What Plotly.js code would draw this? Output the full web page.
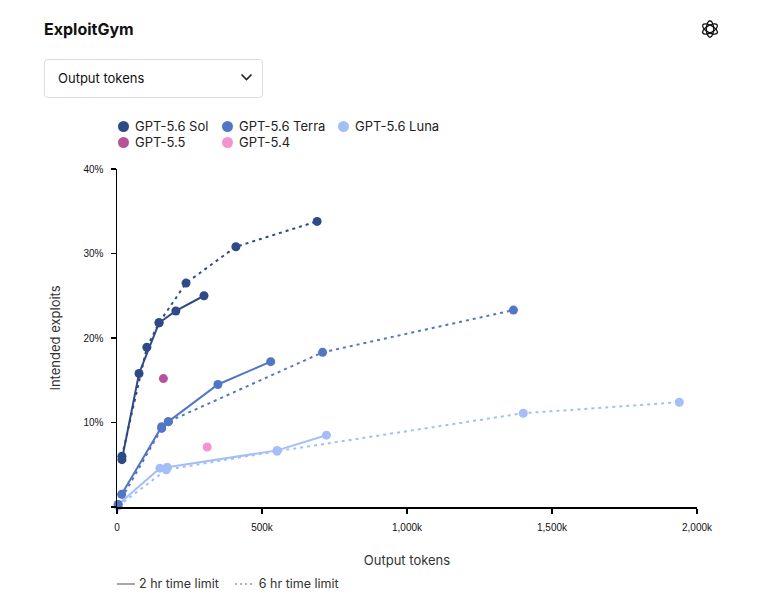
<!DOCTYPE html>
<html><head><meta charset="utf-8">
<script src="https://cdn.plot.ly/plotly-3.0.1.min.js"></script>
<style>
body{margin:0;background:#fff;font-family:Inter,"Liberation Sans",sans-serif;}
#wrap{position:relative;width:758px;height:613px;overflow:hidden;}
#chart{position:absolute;left:0;top:0;width:758px;height:613px;}
.ov{position:absolute;color:#111;white-space:nowrap;}
#title{left:44px;top:19px;font-size:16px;font-weight:700;}
#dd{left:44px;top:59px;width:219px;height:39px;border:1px solid #ddd;border-radius:4px;box-sizing:border-box;}
#ddtxt{left:58px;top:70px;font-size:13px;}
.leg{position:absolute;font-size:13px;color:#222;display:flex;align-items:center;}
.dot{width:11px;height:11px;border-radius:50%;margin-right:6px;}
#bleg{left:117px;top:576px;font-size:12.5px;color:#333;display:flex;align-items:center;}
</style></head>
<body><div id="wrap">
<div id="chart"></div>
<div class="ov" id="title">ExploitGym</div>
<div class="ov" id="dd"></div>
<div class="ov" id="ddtxt">Output tokens</div>
<svg class="ov" style="left:240px;top:72px" width="13" height="10"><path d="M1.5 2.5 L6.5 7.5 L11.5 2.5" fill="none" stroke="#222" stroke-width="1.6"/></svg>
<svg class="ov" style="left:699px;top:18px" width="22" height="22" viewBox="0 0 24 24"><g fill="none" stroke="#111" stroke-width="1.4">
<ellipse cx="12" cy="12" rx="4" ry="9"/><ellipse cx="12" cy="12" rx="4" ry="9" transform="rotate(60 12 12)"/><ellipse cx="12" cy="12" rx="4" ry="9" transform="rotate(120 12 12)"/></g></svg>
<div id="legends"></div>
<div class="ov" id="bleg"><svg width="18" height="4"><line x1="0" y1="2" x2="18" y2="2" stroke="#888" stroke-width="1.5"/></svg><span style="margin-left:4px">2 hr time limit</span><svg width="20" height="4" style="margin-left:16px"><line x1="0" y1="2" x2="20" y2="2" stroke="#999" stroke-width="1.5" stroke-dasharray="2,3"/></svg><span style="margin-left:4px">6 hr time limit</span></div>
</div>
<script>
// Data (output tokens in thousands, intended exploits in %)
const solX2 = [17, 76, 145, 203, 300];
const solY2 = [5.6, 15.8, 21.8, 23.2, 25.0];
const solX6 = [17, 103, 145, 238, 410, 690];
const solY6 = [6.0, 18.9, 21.8, 26.5, 30.8, 33.8];
const terraX2 = [16, 154, 177, 348, 530];
const terraY2 = [1.5, 9.5, 10.1, 14.5, 17.2];
const terraX6 = [4, 154, 177, 709, 1367];
const terraY6 = [0.3, 9.3, 10.1, 18.3, 23.3];
const lunaX2 = [4, 148, 173, 552, 722];
const lunaY2 = [0.3, 4.6, 4.7, 6.7, 8.5];
const lunaX6 = [4, 170, 552, 1401, 1939];
const lunaY6 = [0.1, 4.4, 6.6, 11.1, 12.4];
const gpt55X = [160], gpt55Y = [15.2];
const gpt54X = [311], gpt54Y = [7.1];
const xTickVals = [0, 500, 1000, 1500, 2000];
const xTickText = ["0", "500k", "1,000k", "1,500k", "2,000k"];
const yTickVals = [0, 10, 20, 30, 40];
const yTickText = ["", "10%", "20%", "30%", "40%"];
const legendNames = ["GPT-5.6 Sol", "GPT-5.6 Terra", "GPT-5.6 Luna", "GPT-5.5", "GPT-5.4"];

const C = {sol:"#2e4a87", terra:"#5276c6", luna:"#a4bef8", g55:"#b8529a", g54:"#f294d0"};
function tr(x, y, color, dash){
  return {x:x, y:y, type:"scatter", mode:"lines+markers", cliponaxis:false,
    line:{color:color, width:2, dash:dash}, marker:{color:color, size:9}, showlegend:false, hoverinfo:"none"};
}
const data = [
  tr(lunaX6, lunaY6, C.luna, "3px,4px"), tr(lunaX2, lunaY2, C.luna, "solid"),
  tr(terraX6, terraY6, C.terra, "3px,4px"), tr(terraX2, terraY2, C.terra, "solid"),
  tr(solX6, solY6, C.sol, "3px,4px"), tr(solX2, solY2, C.sol, "solid"),
  {x:gpt55X, y:gpt55Y, type:"scatter", mode:"markers", marker:{color:C.g55,size:9}, showlegend:false, hoverinfo:"none"},
  {x:gpt54X, y:gpt54Y, type:"scatter", mode:"markers", marker:{color:C.g54,size:9}, showlegend:false, hoverinfo:"none"}
];
const tickFont = {family:"Liberation Sans, sans-serif", size:10, color:"#111"};
const layout = {
  width:758, height:613, margin:{l:117, r:61, t:169, b:106},
  paper_bgcolor:"rgba(0,0,0,0)", plot_bgcolor:"rgba(0,0,0,0)",
  showlegend:false,
  xaxis:{range:[0,2000], tickvals:xTickVals, ticktext:xTickText, showgrid:false, zeroline:false,
    showline:true, linecolor:"#000", linewidth:1.5, ticks:"outside", ticklen:5, tickcolor:"#000", tickwidth:1.2,
    tickfont:tickFont, ticklabelstandoff:5,
    title:{text:"Output tokens", font:{family:"Inter, sans-serif", size:13, color:"#333"}, standoff:24}},
  yaxis:{range:[0,40], tickvals:yTickVals, ticktext:yTickText, showgrid:false, zeroline:false,
    showline:true, linecolor:"#000", linewidth:1.5, ticks:"outside", ticklen:5, tickcolor:"#000", tickwidth:1.2,
    tickfont:tickFont, ticklabelstandoff:5,
    title:{text:"Intended exploits", font:{family:"Inter, sans-serif", size:13, color:"#333"}, standoff:20}},
  font:{family:"Inter, sans-serif"}
};
Plotly.newPlot("chart", data, layout, {staticPlot:true, displayModeBar:false});

const legCols = [C.sol, C.terra, C.luna, C.g55, C.g54];
const legPos = [[118,118],[222,118],[338,118],[118,134],[222,134]];
const lg = document.getElementById("legends");
legendNames.forEach((n,i)=>{
  const d = document.createElement("div"); d.className="leg";
  d.style.left = legPos[i][0]+"px"; d.style.top = legPos[i][1]+"px";
  d.innerHTML = '<span class="dot" style="background:'+legCols[i]+'"></span>'+n;
  lg.appendChild(d);
});
</script>
</body></html>
